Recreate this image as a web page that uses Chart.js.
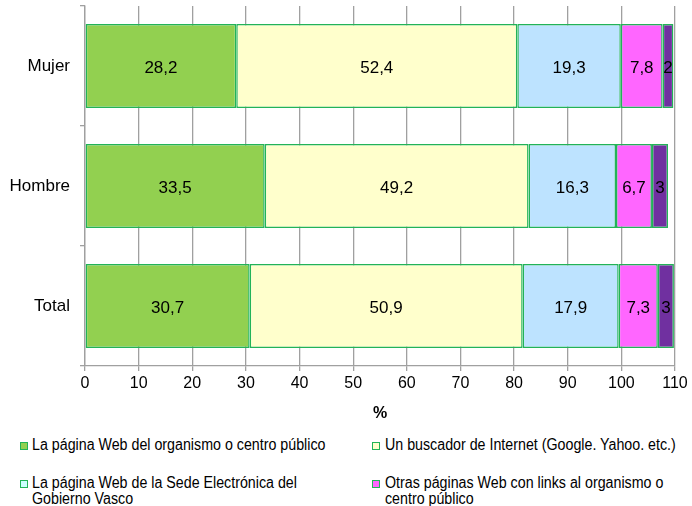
<!DOCTYPE html>
<html>
<head>
<meta charset="utf-8">
<script src="https://cdn.jsdelivr.net/npm/chart.js@4.4.1/dist/chart.umd.min.js"></script>
<style>
  body { margin: 0; background: #fff; font-family: "Liberation Sans", Arial, sans-serif; }
  #wrap { position: relative; width: 692px; height: 506px; }
  #myChart { position: absolute; left: 0; top: 0; }
  .leg { position: absolute; font-size: 16px; line-height: 16px; color: #000; }
  .leg .box { position: absolute; width: 6px; height: 6px; border: 1px solid #22b358; }
  .leg .txt { position: absolute; width: 335px; transform: scaleX(0.89); transform-origin: 0 0; }
</style>
</head>
<body>
<div id="wrap">
  <canvas id="myChart" width="692" height="425"></canvas>
  <div id="legend"></div>
</div>
<script>
// categories (top to bottom)
const categories = ['Mujer', 'Hombre', 'Total'];

// series
const seriesNames = [
  'La página Web del organismo o centro público',
  'Un buscador de Internet (Google. Yahoo. etc.)',
  'La página Web de la Sede Electrónica del Gobierno Vasco',
  'Otras páginas Web con links al organismo o centro público',
  'Otros'
];
const webOrganismo = [28.2, 33.5, 30.7];
const buscador = [52.4, 49.2, 50.9];
const sedeElectronica = [19.3, 16.3, 17.9];
const otrasPaginas = [7.8, 6.7, 7.3];
const otros = [2, 3, 3];

const xTicks = [0, 10, 20, 30, 40, 50, 60, 70, 80, 90, 100, 110];

const colors = ['#92d050', '#ffffcc', '#bde3ff', '#ff66ff', '#7030a0'];
const legendColors = ['#92d050', '#ffffcc', '#ccffff', '#ff66ff'];
const borderGreen = '#22b358';

const seriesValues = [webOrganismo, buscador, sedeElectronica, otrasPaginas, otros];

// value labels inside the bars
const barLabels = {
  id: 'barLabels',
  afterDatasetsDraw(chart) {
    const ctx = chart.ctx;
    ctx.save();
    ctx.font = '17px "Liberation Sans", Arial, sans-serif';
    ctx.fillStyle = '#000';
    ctx.textAlign = 'center';
    ctx.textBaseline = 'middle';
    chart.data.datasets.forEach((ds, i) => {
      chart.getDatasetMeta(i).data.forEach((bar, j) => {
        const p = bar.getCenterPoint();
        const txt = String(ds.data[j]).replace('.', ',');
        ctx.fillText(txt, p.x, p.y + 2);
      });
    });
    ctx.restore();
  }
};

const ctx = document.getElementById('myChart').getContext('2d');
const chart = new Chart(ctx, {
  type: 'bar',
  data: {
    labels: categories,
    datasets: seriesValues.map((vals, i) => ({
      label: seriesNames[i],
      data: vals,
      backgroundColor: colors[i],
      borderColor: borderGreen,
      borderWidth: 1.5,
      borderSkipped: false,
      barPercentage: 0.7,
      categoryPercentage: 1.0
    }))
  },
  options: {
    indexAxis: 'y',
    responsive: false,
    animation: false,
    layout: { padding: { top: 6, right: 17, left: 0, bottom: 0 } },
    plugins: {
      legend: { display: false },
      tooltip: { enabled: false }
    },
    scales: {
      x: {
        stacked: true,
        min: 0,
        max: 110,
        afterBuildTicks: s => { s.ticks = xTicks.map(v => ({ value: v })); },
        ticks: {
          color: '#000',
          padding: 3,
          maxRotation: 0,
          font: { family: '"Liberation Sans", Arial, sans-serif', size: 16 }
        },
        grid: { color: '#a0a0a0', lineWidth: 1.3, tickLength: 5 },
        border: { color: '#a0a0a0', width: 1.3 },
        title: {
          display: true,
          text: '%',
          color: '#000',
          padding: { top: 4, bottom: 2 },
          font: { family: '"Liberation Sans", Arial, sans-serif', size: 16, weight: 'bold' }
        },
        afterFit: s => { s.height = 59; s.paddingLeft = 0; s.paddingRight = 0; }
      },
      y: {
        stacked: true,
        ticks: {
          color: '#000',
          padding: 10,
          font: { family: '"Liberation Sans", Arial, sans-serif', size: 17 }
        },
        grid: { drawOnChartArea: false, color: '#a0a0a0', lineWidth: 1.3, tickLength: 5 },
        border: { color: '#a0a0a0', width: 1.3 },
        afterFit: s => { s.width = 85; s.paddingTop = 0; s.paddingBottom = 0; }
      }
    }
  },
  plugins: [barLabels]
});

// legend: only the first four series appear in it
const legendPos = [
  { x: 20, y: 437 },
  { x: 372, y: 437 },
  { x: 20, y: 475 },
  { x: 372, y: 475 }
];
const legend = document.getElementById('legend');
legendPos.forEach((pos, i) => {
  const item = document.createElement('div');
  item.className = 'leg';
  item.style.left = pos.x + 'px';
  item.style.top = pos.y + 'px';
  item.innerHTML = '<div class="box" style="left:0;top:5px;background:' + legendColors[i] + '"></div>' +
    '<div class="txt" style="left:' + (i % 2 ? 13 : 12) + 'px;top:0">' + seriesNames[i] + '</div>';
  legend.appendChild(item);
});
</script>
</body>
</html>
